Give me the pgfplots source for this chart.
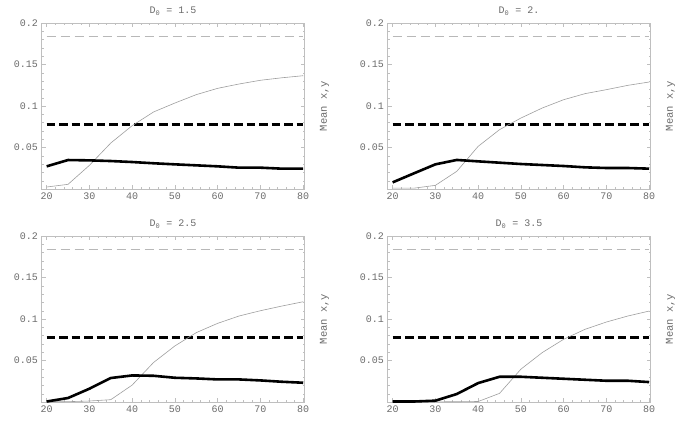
\documentclass[border=0pt]{standalone}
\usepackage{fontspec}
\setmainfont{Liberation Mono}
\usepackage{pgfplots}
\pgfplotsset{compat=1.18}
\definecolor{txtc}{rgb}{0.42,0.42,0.42}
\definecolor{frmc}{rgb}{0.75,0.75,0.75}
\definecolor{thinc}{rgb}{0.62,0.62,0.62}
\definecolor{thindc}{rgb}{0.72,0.72,0.72}
\pgfplotsset{
  panel/.style={
    scale only axis, width=263pt, height=166pt, anchor=south west,
    xmin=18.8, xmax=80.3, ymin=0, ymax=0.2,
    xtick={20,30,40,50,60,70,80},
    xticklabels={20,30,40,50,60,70,80},
    minor x tick num=4,
    ytick={0,0.05,0.1,0.15,0.2},
    yticklabels={,0.05,0.1,0.15,0.2},
    minor y tick num=4,
    tick align=inside,
    major tick length=4pt, minor tick length=2pt,
    axis line style={frmc, line width=0.6pt},
    every tick/.style={frmc, line width=0.5pt},
    every minor tick/.style={frmc, line width=0.4pt},
    tick label style={font=\fontsize{10}{10}\selectfont, text=txtc},
    title style={font=\fontsize{10}{10}\selectfont, text=txtc, yshift=-2pt},
    ylabel={Mean x,y},
    y label style={at={(axis description cs:1.045,0.5)}, anchor=north, rotate=0, font=\fontsize{10.5}{10.5}\selectfont, text=txtc},
    clip=false,
  },
  thickline/.style={black, line width=2.6pt, line join=round},
  thickdash/.style={black, line width=2.6pt, dash pattern=on 8.5pt off 4pt},
  thinline/.style={color=thinc, line width=0.6pt},
  thindash/.style={color=thindc, line width=0.6pt, dash pattern=on 9pt off 5pt},
}
\begin{document}
\begin{tikzpicture}
\path[use as bounding box] (0,0) rectangle (685pt,437pt);

\begin{axis}[panel, at={(41.5pt,248pt)}, title={D\textsubscript{0} = 1.5}]
\addplot[thindash] coordinates {(20,0.1835) (80,0.1835)};
\addplot[thickdash] coordinates {(20,0.0775) (80,0.0775)};
\addplot[thinline] coordinates {(20,0.0024) (25,0.0056) (30,0.0285) (35,0.0554) (40,0.0763) (45,0.0928) (50,0.1036) (55,0.1137) (60,0.1213) (65,0.1265) (70,0.131) (75,0.134) (80,0.1365)};
\addplot[thickline] coordinates {(20,0.0273) (25,0.0349) (30,0.0345) (35,0.0337) (40,0.0325) (45,0.031) (50,0.0297) (55,0.0285) (60,0.0273) (65,0.0257) (70,0.0257) (75,0.0245) (80,0.0245)};
\end{axis}

\begin{axis}[panel, at={(387.5pt,248pt)}, title={D\textsubscript{0} = 2.}]
\addplot[thindash] coordinates {(20,0.1835) (80,0.1835)};
\addplot[thickdash] coordinates {(20,0.0775) (80,0.0775)};
\addplot[thinline] coordinates {(20,0.001) (25,0.001) (30,0.0044) (35,0.0213) (40,0.0514) (45,0.0715) (50,0.0855) (55,0.0976) (60,0.1076) (65,0.1149) (70,0.1197) (75,0.1249) (80,0.1289)};
\addplot[thickline] coordinates {(20,0.008) (25,0.0189) (30,0.0297) (35,0.035) (40,0.0333) (45,0.0317) (50,0.0301) (55,0.0289) (60,0.0277) (65,0.0261) (70,0.0253) (75,0.0253) (80,0.0245)};
\end{axis}

\begin{axis}[panel, at={(41.5pt,35pt)}, title={D\textsubscript{0} = 2.5}]
\addplot[thindash] coordinates {(20,0.1835) (80,0.1835)};
\addplot[thickdash] coordinates {(20,0.0775) (80,0.0775)};
\addplot[thinline] coordinates {(20,0.0002) (25,0.0004) (30,0.0012) (35,0.0028) (40,0.0204) (45,0.0476) (50,0.0676) (55,0.0836) (60,0.0948) (65,0.1036) (70,0.11) (75,0.1156) (80,0.1208)};
\addplot[thickline] coordinates {(20,0.0006) (25,0.0048) (30,0.016) (35,0.0289) (40,0.032) (45,0.0316) (50,0.0292) (55,0.0284) (60,0.0272) (65,0.0272) (70,0.026) (75,0.0244) (80,0.0232)};
\end{axis}

\begin{axis}[panel, at={(387.5pt,35pt)}, title={D\textsubscript{0} = 3.5}]
\addplot[thindash] coordinates {(20,0.1835) (80,0.1835)};
\addplot[thickdash] coordinates {(20,0.0775) (80,0.0775)};
\addplot[thinline] coordinates {(20,0.0002) (25,0.0002) (30,0.0002) (35,0.0003) (40,0.0006) (45,0.0104) (50,0.0396) (55,0.0596) (60,0.0756) (65,0.0876) (70,0.0964) (75,0.1036) (80,0.1096)};
\addplot[thickline] coordinates {(20,0.0006) (25,0.0006) (30,0.0016) (35,0.0096) (40,0.0228) (45,0.0304) (50,0.0304) (55,0.0292) (60,0.028) (65,0.0268) (70,0.0256) (75,0.0256) (80,0.024)};
\end{axis}
\end{tikzpicture}
\end{document}
